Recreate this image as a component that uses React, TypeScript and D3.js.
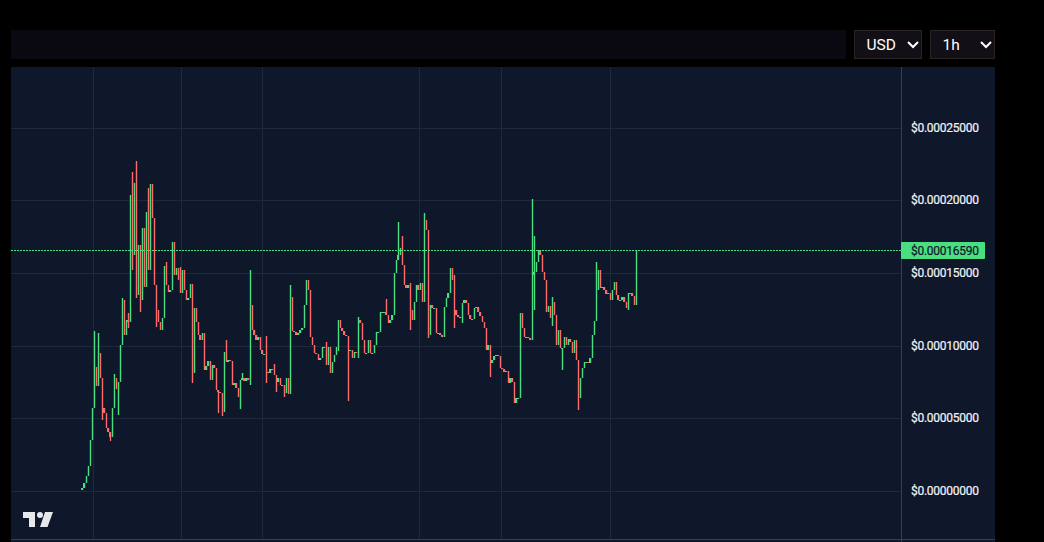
import React from "react";
import * as d3 from "d3";

// Prices are in units of 0.00001 USD; one candle per entry.
const closes: number[] = [
  0.2,0.55,1.03,1.72,3.51,5.71,8.53,7.22,9.49,7.77,
  5.71,5.37,4.33,4.06,3.72,5.71,7.77,7.02,7.5,10.04,
  13.14,10.73,11.76,11.63,20.36,16.23,21.19,13.48,16.92,13.14,
  18.09,14.04,19.2,15.2,21.12,18.78,14.17,12.45,11.63,11.08,
  11.9,15.47,14.17,13.69,13.83,17.13,14.86,15.34,14.52,13.62,
  15.2,13.83,13.14,13.27,14.24,11.07,12.59,11.63,10.73,10.39,
  10.87,8.32,8.6,8.94,7.64,8.67,8.46,6.95,6.81,6.74,
  5.44,9.56,8.87,9.01,8.94,7.29,7.43,7.09,6.47,7.64,
  7.77,7.57,7.77,7.64,12.79,11.08,10.73,10.39,10.59,9.69,
  9.42,9.42,8.18,8.11,8.39,8.39,7.98,7.5,7.77,7.29,
  7.29,6.74,7.77,6.67,13.34,11.0,10.93,10.73,10.87,11.08,
  11.21,12.79,14.51,13.82,10.59,10.04,9.49,9.42,9.01,9.15,
  9.9,9.9,8.67,9.9,8.11,8.87,9.35,9.9,11.76,11.21,
  11.0,10.73,10.66,9.69,9.69,9.15,9.56,9.49,11.76,11.55,
  10.39,9.49,9.49,10.39,9.49,9.49,10.04,10.93,10.93,12.31,
  12.31,12.31,12.1,11.55,11.76,12.1,14.99,15.88,16.23,16.71,
  15.54,14.17,13.96,14.17,12.45,11.76,13.0,14.17,13.83,14.3,
  13.0,18.64,17.95,12.31,12.79,12.59,12.59,10.87,10.87,10.73,
  10.59,12.66,13.27,13.62,15.34,14.51,12.45,12.1,11.96,11.96,
  12.93,13.14,12.93,12.1,11.83,11.83,12.59,12.66,12.31,12.04,
  11.63,11.21,9.69,10.04,8.8,9.01,9.28,9.35,9.28,8.46,
  8.39,8.18,8.25,7.43,7.77,7.5,6.05,6.4,6.4,12.24,
  11.21,10.59,10.59,10.52,10.39,14.85,15.06,15.75,16.57,16.23,
  15.06,14.51,12.31,12.72,11.9,13.0,12.1,10.04,11.08,9.83,
  9.83,10.59,10.04,10.45,10.25,9.49,10.39,9.01,6.4,7.77,
  8.46,8.87,8.87,8.8,9.15,10.73,11.69,13.82,15.2,13.96,
  14.03,13.82,13.55,13.62,13.14,13.82,14.38,13.48,13.14,13.14,
  13.34,13.0,12.59,13.62,13.62,13.41,12.79,16.59,
];

const upperWicks: [number, number][] = [
  [6,11.0],[8,10.87],[10,7.02],[16,8.05],[20,13.3],[23,12.24],[25,21.95],[27,22.7],[33,20.85],
  [42,15.75],[49,15.41],[55,13.89],[72,10.39],[80,8.11],[84,15.2],[92,10.66],[96,8.73],[104,14.17],
  [122,10.25],[138,11.96],[152,13.2],[158,18.5],[160,17.54],[164,14.3],[171,19.12],[173,17.95],
  [186,14.86],[225,20.08],[226,17.54],[229,16.57],[235,13.34],[257,15.75],
];

const lowerWicks: [number, number][] = [
  [10,4.88],[14,3.44],[18,5.23],[23,11.21],[25,15.2],[27,13.27],[29,12.3],[37,11.28],[55,7.43],[56,8.11],
  [68,5.37],[70,5.16],[79,5.64],[84,7.29],[92,7.43],[97,6.81],[101,6.47],[104,6.95],[128,9.63],[133,6.19],
  [138,9.15],[164,11.07],[173,10.52],[174,10.73],[186,11.21],[190,11.55],[204,7.84],[226,12.45],[235,11.35],
  [240,8.32],[248,5.57],[257,11.69],[273,12.45],
];

const priceTicks = [25, 20, 15, 10, 5, 0];
const priceLabels = ["$0.00025000","$0.00020000","$0.00015000","$0.00010000","$0.00005000","$0.00000000"];
const timeGrid = [5.75, 49.75, 90.25, 168.75, 209.75, 264.25];
const lastPrice = 16.59;
const lastLabel = "$0.00016590";
const currencyLabel = "USD";
const intervalLabel = "1h";

const GREEN = "#4ade80";
const RED = "#ff6b6b";
const GRID = "#1e293b";
const AXIS = "#334155";
const FONT = "Roboto, sans-serif";

const y = d3.scaleLinear().domain([0, 25]).range([491, 127.5]);
const x = d3.scaleLinear().domain([0, closes.length - 1]).range([82, 636]);

export default function App() {
  const hi = new Map(upperWicks);
  const lo = new Map(lowerWicks);
  const candles = closes.map((c, i) => {
    const o = i === 0 ? c - 0.15 : closes[i - 1];
    return { i, o, c, h: Math.max(o, c, hi.get(i) ?? -1), l: Math.min(o, c, lo.get(i) ?? 99) };
  });
  const chevron = (cx: number) => `M${cx - 5} 42 L${cx} 47 L${cx + 5} 42`;
  const lastY = Math.round(y(lastPrice)) + 0.5;
  return (
    <svg width={1044} height={542} viewBox="0 0 1044 542" style={{ position: "fixed", left: 0, top: 0, display: "block" }} fontFamily={FONT}>
      <rect width={1044} height={542} fill="#000" />
      <rect x={11} y={30} width={835} height={29} fill="#0a0810" />
      <rect x={854.5} y={30.5} width={67} height={28} fill="#130f17" stroke="#2b2420" />
      <rect x={930.5} y={30.5} width={64} height={28} fill="#130f17" stroke="#2b2420" />
      <text x={866.5} y={50} fill="#fff" fontSize={15.5}>{currencyLabel}</text>
      <text x={942.5} y={50} fill="#fff" fontSize={15.5}>{intervalLabel}</text>
      <path d={chevron(913)} fill="none" stroke="#fff" strokeWidth={2} />
      <path d={chevron(986)} fill="none" stroke="#fff" strokeWidth={2} />

      <rect x={11} y={67} width={984} height={475} fill="#0f172a" />
      {priceTicks.map(t => (
        <line key={t} x1={11} x2={901} y1={Math.round(y(t)) + 0.5} y2={Math.round(y(t)) + 0.5} stroke={GRID} />
      ))}
      {timeGrid.map(t => (
        <line key={t} x1={Math.floor(x(t)) + 0.5} x2={Math.floor(x(t)) + 0.5} y1={67} y2={539} stroke={GRID} />
      ))}
      <line x1={11} x2={995} y1={539.5} y2={539.5} stroke={AXIS} />
      <line x1={901.5} x2={901.5} y1={67} y2={542} stroke={AXIS} />

      <g>
        {candles.map(d => {
          const col = d.c >= d.o ? GREEN : RED;
          const cx = Math.round(x(d.i));
          const top = Math.round(y(Math.max(d.o, d.c)));
          const bot = Math.round(y(Math.min(d.o, d.c)));
          const wt = Math.round(y(d.h));
          const wb = Math.round(y(d.l));
          const tall = bot - top > 5;
          return (
            <g key={d.i}>
              <rect x={cx - 0.2} y={wt} width={1.4} height={Math.max(wb - wt, 1)} fill={col} />
              {!tall && <rect x={cx - 1} y={top} width={2} height={Math.max(bot - top, 1)} fill={col} />}
            </g>
          );
        })}
      </g>

      <line x1={11} x2={901} y1={lastY} y2={lastY} stroke={GREEN} strokeDasharray="2 1" shapeRendering="crispEdges" />
      {priceTicks.map((t, i) => (
        <text key={t} x={911} y={Math.round(y(t)) + 4} fill="#f1f3f8" stroke="#f1f3f8" strokeWidth={0.2} fontSize={12} textLength={68}>{priceLabels[i]}</text>
      ))}
      <rect x={901} y={242} width={84} height={17} rx={1} fill={GREEN} />
      <text x={911} y={255} fill="#0f172a" stroke="#0f172a" strokeWidth={0.2} fontSize={12} textLength={68}>{lastLabel}</text>

      <g fill="#e5e7eb">
        <path d="M23 512 H35 V527 H29 V518 H23 Z" />
        <circle cx={40} cy={515} r={3} />
        <path d="M45 512 H53 L47.5 527 H40 Z" />
      </g>
    </svg>
  );
}
